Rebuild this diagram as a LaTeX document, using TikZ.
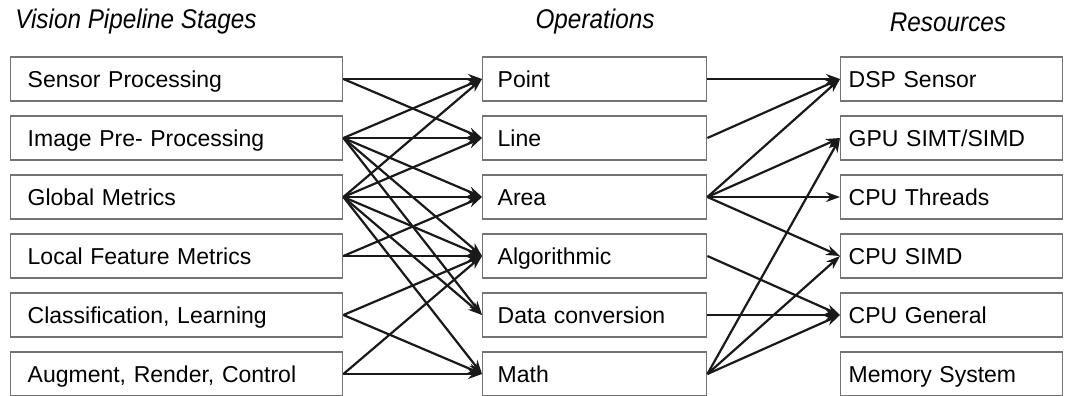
\documentclass[tikz,border=0pt]{standalone}
\usepackage{fontspec}
\setmainfont{Liberation Sans}
\newfontfamily\hdrfont[FakeStretch=0.9]{Liberation Sans}
\usetikzlibrary{arrows.meta}
\begin{document}
\begin{tikzpicture}[x=1pt,y=-1pt,
  boxbase/.style={draw=black!55, line width=1.4pt, minimum height=44pt, inner ysep=0pt, anchor=west,
    font=\fontsize{23}{25}\selectfont, text height=18.5pt, text depth=2pt, align=left},
  lbox/.style={boxbase, text width=298pt, inner xsep=17pt},
  mbox/.style={boxbase, text width=194pt, inner xsep=15pt},
  rbox/.style={boxbase, text width=206pt, inner xsep=8pt},
  hdr/.style={font=\hdrfont\fontsize{27}{31}\selectfont\itshape},
  arr/.style={draw=black!90, line width=2.2pt, -{Stealth[length=14pt,width=10pt,inset=4.5pt]}}
]
\useasboundingbox (0,0) rectangle (1073,396);
% headers
\node[hdr] (h1) at (136,22) {Vision Pipeline Stages};
\node[hdr] (h2) at (595,22) {Operations};
\node[hdr] (h3) at (948,22) {Resources};
% left column
\node[lbox] (l1) at (10,79)  {Sensor Processing};
\node[lbox] (l2) at (10,138) {Image Pre- Processing};
\node[lbox] (l3) at (10,197) {Global Metrics};
\node[lbox] (l4) at (10,256) {Local Feature Metrics};
\node[lbox] (l5) at (10,315) {Classification, Learning};
\node[lbox] (l6) at (10,374) {Augment, Render, Control};
% middle column
\node[mbox] (m1) at (482,79)  {Point};
\node[mbox] (m2) at (482,138) {Line};
\node[mbox] (m3) at (482,197) {Area};
\node[mbox] (m4) at (482,256) {Algorithmic};
\node[mbox] (m5) at (482,315) {Data conversion};
\node[mbox] (m6) at (482,374) {Math};
% right column
\node[rbox] (r1) at (840,79)  {DSP Sensor};
\node[rbox] (r2) at (840,138) {GPU SIMT/SIMD};
\node[rbox] (r3) at (840,197) {CPU Threads};
\node[rbox] (r4) at (840,256) {CPU SIMD};
\node[rbox] (r5) at (840,315) {CPU General};
\node[rbox] (r6) at (840,374) {Memory System};
% stage -> operation
\foreach \s/\t in {l1/m1,l1/m2,
  l2/m1,l2/m2,l2/m3,l2/m4,l2/m5,
  l3/m1,l3/m2,l3/m3,l3/m4,l3/m5,l3/m6,
  l4/m3,l4/m4,
  l5/m4,l5/m6,
  l6/m4,l6/m6}
  \draw[arr] (\s.east) -- (\t.west);
% operation -> resource
\foreach \s/\t in {m1/r1,m2/r1,
  m3/r1,m3/r2,m3/r3,m3/r4,
  m4/r5,m5/r5,
  m6/r2,m6/r4,m6/r5}
  \draw[arr] (\s.east) -- (\t.west);
\end{tikzpicture}
\end{document}
